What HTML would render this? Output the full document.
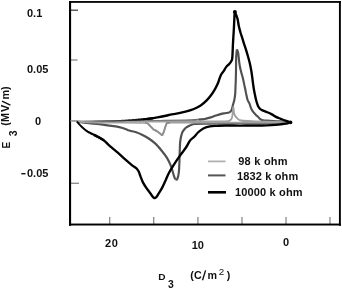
<!DOCTYPE html>
<html><head><meta charset="utf-8">
<style>
html,body{margin:0;padding:0;background:#fff;width:342px;height:289px;overflow:hidden;}
svg{display:block;will-change:transform;}
text{font-family:"Liberation Sans",sans-serif;font-weight:bold;fill:#111;}
</style></head>
<body>
<svg width="342" height="289" viewBox="0 0 342 289">
<defs><linearGradient id="fade" gradientUnits="userSpaceOnUse" x1="77" y1="0" x2="150" y2="0">
<stop offset="0.000" stop-color="#aaa"/><stop offset="0.205" stop-color="#888"/><stop offset="0.384" stop-color="#666"/><stop offset="0.658" stop-color="#333"/><stop offset="0.932" stop-color="#000"/></linearGradient></defs>
<!-- ticks -->
<g stroke="#8a8a8a" stroke-width="1.3" fill="none">
<line x1="71" y1="10.2" x2="78" y2="10.2" stroke="#444"/>
<line x1="71" y1="60" x2="77.5" y2="60"/>
<line x1="71" y1="183.3" x2="79" y2="183.3"/>
<line x1="109.7" y1="217" x2="109.7" y2="224"/>
<line x1="153.7" y1="217" x2="153.7" y2="224"/>
<line x1="197.9" y1="217" x2="197.9" y2="224"/>
<line x1="242" y1="217" x2="242" y2="224"/>
<line x1="286" y1="217" x2="286" y2="224"/>
<line x1="330" y1="217" x2="330" y2="224"/>
</g>
<!-- frame -->
<g fill="#000">
<rect x="69" y="1.05" width="271.85" height="1.8"/>
<rect x="69" y="1.05" width="2.1" height="224.75"/>
<rect x="338.95" y="1.05" width="1.9" height="224.75"/>
<rect x="69" y="223.55" width="271.85" height="1.95"/>
</g>

<!-- mid gray 1832k -->
<path fill="none" stroke="#6e6e6e" stroke-width="1.8" d="M78.00,121.90 C81.67,121.78 91.33,121.37 100.00,121.20 C108.67,121.03 120.00,120.97 130.00,120.90 C140.00,120.83 150.83,120.88 160.00,120.80 C169.17,120.72 179.17,120.53 185.00,120.40 C190.83,120.27 191.87,120.23 195.00,120.00 C198.13,119.77 202.33,119.17 203.80,119.00"/>
<path fill="none" stroke="#505050" stroke-width="2.15" stroke-linejoin="round" d="M199.00,119.60 C199.80,119.53 201.83,119.57 203.80,119.20 C205.77,118.83 208.77,118.02 210.80,117.40 C212.83,116.78 214.25,116.08 216.00,115.50 C217.75,114.92 219.80,114.28 221.30,113.90 C222.80,113.52 223.65,113.45 225.00,113.20 C226.35,112.95 228.30,112.93 229.40,112.40 C230.50,111.87 231.03,111.15 231.60,110.00 C232.17,108.85 232.35,107.17 232.80,105.50 C233.25,103.83 233.90,101.95 234.30,100.00 C234.70,98.05 235.00,95.98 235.20,93.80 C235.40,91.62 235.40,89.20 235.50,86.90 C235.60,84.60 235.72,82.75 235.80,80.00 C235.88,77.25 235.95,73.73 236.00,70.40 C236.05,67.07 236.05,62.57 236.10,60.00 C236.15,57.43 236.17,56.77 236.30,55.00 C236.43,53.23 236.80,50.33 236.90,49.40 M236.90,49.40 C237.12,50.00 237.85,51.17 238.20,53.00 C238.55,54.83 238.73,58.23 239.00,60.40 C239.27,62.57 239.48,64.23 239.80,66.00 C240.12,67.77 240.45,69.20 240.90,71.00 C241.35,72.80 242.07,75.13 242.50,76.80 C242.93,78.47 243.17,79.48 243.50,81.00 C243.83,82.52 244.18,84.40 244.50,85.90 C244.82,87.40 245.08,88.48 245.40,90.00 C245.72,91.52 246.03,93.33 246.40,95.00 C246.77,96.67 247.08,98.57 247.60,100.00 C248.12,101.43 248.95,102.28 249.50,103.60 C250.05,104.92 250.35,106.62 250.90,107.90 C251.45,109.18 252.03,110.22 252.80,111.30 C253.57,112.38 254.60,113.45 255.50,114.40 C256.40,115.35 257.40,116.20 258.20,117.00 C259.00,117.80 259.50,118.63 260.30,119.20 C261.10,119.77 261.38,120.13 263.00,120.40 C264.62,120.67 267.17,120.63 270.00,120.80 C272.83,120.97 276.80,121.12 280.00,121.40 C283.20,121.68 287.67,122.32 289.20,122.50 M289.20,122.50 C286.83,122.57 280.70,122.82 275.00,122.90 C269.30,122.98 260.83,122.98 255.00,123.00 C249.17,123.02 245.00,122.95 240.00,123.00 C235.00,123.05 230.00,123.18 225.00,123.30 C220.00,123.42 215.00,123.58 210.00,123.70 C205.00,123.82 198.25,123.75 195.00,124.00 C191.75,124.25 191.83,124.70 190.50,125.20 C189.17,125.70 187.98,126.37 187.00,127.00 C186.02,127.63 185.45,127.95 184.60,129.00 C183.75,130.05 182.63,131.20 181.90,133.30 C181.17,135.40 180.55,138.83 180.20,141.60 C179.85,144.37 179.93,146.43 179.80,149.90 C179.67,153.37 179.57,158.60 179.40,162.40 C179.23,166.20 179.15,169.93 178.80,172.70 C178.45,175.47 177.88,177.88 177.30,179.00 C176.72,180.12 175.63,179.33 175.30,179.40 M175.30,179.40 C175.02,178.63 174.33,177.05 173.60,174.80 C172.87,172.55 172.00,168.72 170.90,165.90 C169.80,163.08 168.53,160.43 167.00,157.90 C165.47,155.37 163.63,153.08 161.70,150.70 C159.77,148.32 157.57,145.63 155.40,143.60 C153.23,141.57 150.85,139.93 148.70,138.50 C146.55,137.07 144.58,136.03 142.50,135.00 C140.42,133.97 138.28,133.00 136.20,132.30 C134.12,131.60 131.45,131.20 130.00,130.80 C128.55,130.40 128.88,130.40 127.50,129.90 C126.12,129.40 123.45,128.35 121.70,127.80 C119.95,127.25 118.70,126.92 117.00,126.60 C115.30,126.28 113.33,126.15 111.50,125.90 C109.67,125.65 107.75,125.35 106.00,125.10 C104.25,124.85 103.53,124.67 101.00,124.40 C98.47,124.13 94.58,123.90 90.80,123.50 C87.02,123.10 80.38,122.25 78.30,122.00"/>
<!-- light gray 98k -->
<path fill="none" stroke="#a0a0a0" stroke-width="1.8" stroke-linejoin="round" d="M70.50,120.90 C71.58,120.92 73.75,120.85 77.00,121.00 C80.25,121.15 77.83,121.68 90.00,121.80 C102.17,121.92 131.67,121.75 150.00,121.70 C168.33,121.65 187.50,121.57 200.00,121.50 C212.50,121.43 220.17,121.42 225.00,121.30 C229.83,121.18 227.98,121.12 229.00,120.80 C230.02,120.48 230.57,120.10 231.10,119.40 C231.63,118.70 231.83,118.73 232.20,116.60 C232.57,114.47 233.12,108.27 233.30,106.60 M233.30,106.60 C233.48,107.90 233.75,112.45 234.40,114.40 C235.05,116.35 236.00,117.28 237.20,118.30 C238.40,119.32 238.63,120.00 241.60,120.50 C244.57,121.00 249.43,121.07 255.00,121.30 C260.57,121.53 269.30,121.70 275.00,121.90 C280.70,122.10 286.83,122.40 289.20,122.50 M289.20,122.50 C286.00,122.53 279.87,122.67 270.00,122.70 C260.13,122.73 241.67,122.70 230.00,122.70 C218.33,122.70 209.17,122.70 200.00,122.70 C190.83,122.70 180.33,122.68 175.00,122.70 C169.67,122.72 169.37,122.68 168.00,122.80 C166.63,122.92 167.13,123.02 166.80,123.40 C166.47,123.78 166.28,124.40 166.00,125.10 C165.72,125.80 165.45,126.52 165.10,127.60 C164.75,128.68 164.40,130.28 163.90,131.60 C163.40,132.92 162.40,134.85 162.10,135.50 M162.10,135.50 C161.82,135.22 161.20,134.48 160.40,133.80 C159.60,133.12 158.45,132.13 157.30,131.40 C156.15,130.67 154.42,130.02 153.50,129.40 C152.58,128.78 152.42,128.33 151.80,127.70 C151.18,127.07 150.43,126.27 149.80,125.60 C149.17,124.93 148.80,124.15 148.00,123.70 C147.20,123.25 146.33,123.05 145.00,122.90 C143.67,122.75 144.17,122.85 140.00,122.80 C135.83,122.75 126.67,122.65 120.00,122.60 C113.33,122.55 106.67,122.62 100.00,122.50 C93.33,122.38 83.33,122.00 80.00,121.90"/>
<path fill="none" stroke="#8e8e8e" stroke-width="1.7" stroke-linejoin="round" d="M170.00,122.75 C169.67,122.76 168.53,122.69 168.00,122.80 C167.47,122.91 167.13,123.02 166.80,123.40 C166.47,123.78 166.28,124.40 166.00,125.10 C165.72,125.80 165.45,126.52 165.10,127.60 C164.75,128.68 164.40,130.28 163.90,131.60 C163.40,132.92 162.40,134.85 162.10,135.50 M162.10,135.50 C161.82,135.22 161.20,134.48 160.40,133.80 C159.60,133.12 158.45,132.13 157.30,131.40 C156.15,130.67 154.42,130.02 153.50,129.40 C152.58,128.78 152.42,128.33 151.80,127.70 C151.18,127.07 150.43,126.27 149.80,125.60 C149.17,124.93 148.80,124.15 148.00,123.70 C147.20,123.25 145.50,123.03 145.00,122.90"/>
<!-- black fade -->
<path fill="url(#fade)" stroke="none" d="M77.52,122.55 L78.11,122.54 L78.85,122.52 L79.71,122.50 L80.67,122.48 L81.71,122.45 L82.83,122.42 L84.00,122.40 L85.20,122.37 L86.42,122.34 L87.65,122.31 L88.85,122.28 L90.02,122.25 L91.19,122.22 L92.40,122.19 L93.64,122.15 L94.91,122.12 L96.19,122.09 L97.49,122.05 L98.79,122.01 L100.08,121.98 L101.35,121.95 L102.61,121.91 L103.83,121.88 L105.02,121.85 L106.18,121.82 L107.33,121.80 L108.48,121.77 L109.61,121.75 L110.72,121.73 L111.83,121.71 L112.91,121.69 L113.98,121.67 L115.03,121.64 L116.05,121.62 L117.05,121.58 L118.03,121.55 L118.99,121.51 L119.93,121.46 L120.85,121.41 L121.75,121.36 L122.63,121.30 L123.49,121.25 L124.32,121.19 L125.13,121.14 L125.90,121.10 L126.65,121.06 L127.36,121.03 L128.05,121.00 L128.69,120.97 L129.30,120.95 L129.87,120.93 L130.41,120.91 L130.92,120.90 L131.41,120.88 L131.88,120.87 L132.34,120.85 L132.78,120.84 L133.21,120.82 L133.63,120.81 L134.05,120.79 L134.46,120.77 L134.83,120.75 L135.18,120.73 L135.51,120.72 L135.83,120.70 L136.14,120.68 L136.44,120.66 L136.74,120.64 L137.05,120.62 L137.37,120.60 L137.71,120.57 L138.07,120.55 L138.45,120.53 L138.83,120.50 L139.21,120.48 L139.60,120.46 L139.99,120.43 L140.39,120.41 L140.80,120.38 L141.23,120.35 L141.67,120.32 L142.12,120.29 L142.59,120.26 L143.09,120.23 L143.61,120.19 L144.18,120.16 L144.79,120.12 L145.42,120.07 L146.07,120.03 L146.72,119.99 L147.36,119.94 L147.98,119.90 L148.58,119.86 L149.14,119.81 L149.66,119.78 L150.11,119.74 L150.52,119.70 L150.90,119.66 L151.25,119.63 L151.56,119.59 L151.85,119.56 L152.11,119.52 L152.34,119.49 L152.55,119.46 L152.74,119.43 L152.90,119.40 L153.04,119.38 L153.16,119.36 L152.84,117.04 L152.70,117.06 L152.54,117.08 L152.37,117.11 L152.19,117.14 L151.99,117.17 L151.77,117.20 L151.52,117.24 L151.25,117.28 L150.96,117.32 L150.63,117.37 L150.28,117.42 L149.89,117.46 L149.44,117.51 L148.94,117.57 L148.39,117.63 L147.79,117.69 L147.17,117.75 L146.53,117.81 L145.89,117.88 L145.25,117.94 L144.62,118.00 L144.01,118.06 L143.44,118.12 L142.91,118.17 L142.43,118.22 L141.96,118.26 L141.50,118.31 L141.07,118.35 L140.64,118.39 L140.23,118.43 L139.83,118.47 L139.44,118.51 L139.06,118.54 L138.68,118.58 L138.30,118.61 L137.93,118.65 L137.56,118.68 L137.22,118.72 L136.90,118.75 L136.59,118.78 L136.29,118.81 L135.99,118.84 L135.69,118.86 L135.38,118.89 L135.05,118.92 L134.71,118.95 L134.34,118.98 L133.95,119.01 L133.53,119.04 L133.12,119.07 L132.69,119.10 L132.26,119.12 L131.80,119.15 L131.34,119.18 L130.85,119.21 L130.33,119.24 L129.79,119.28 L129.21,119.32 L128.60,119.36 L127.95,119.40 L127.27,119.46 L126.55,119.51 L125.80,119.57 L125.02,119.64 L124.22,119.70 L123.39,119.75 L122.53,119.81 L121.66,119.86 L120.76,119.92 L119.85,119.96 L118.92,120.01 L117.97,120.05 L117.00,120.09 L116.01,120.12 L114.99,120.14 L113.95,120.17 L112.88,120.19 L111.80,120.21 L110.70,120.23 L109.58,120.25 L108.45,120.28 L107.30,120.30 L106.15,120.32 L104.98,120.35 L103.79,120.38 L102.57,120.41 L101.31,120.45 L100.04,120.48 L98.74,120.51 L97.45,120.55 L96.15,120.59 L94.87,120.62 L93.60,120.65 L92.36,120.69 L91.15,120.72 L89.98,120.75 L88.81,120.78 L87.61,120.81 L86.39,120.84 L85.17,120.87 L83.96,120.90 L82.79,120.93 L81.68,120.95 L80.63,120.98 L79.67,121.00 L78.81,121.02 L78.08,121.04 L77.48,121.05 Z"/>
<path fill="#000" stroke="none" d="M104.81,139.60 L104.52,139.42 L104.16,139.20 L103.74,138.94 L103.26,138.65 L102.74,138.33 L102.19,137.99 L101.62,137.64 L101.03,137.29 L100.45,136.94 L99.87,136.60 L99.30,136.27 L98.77,135.97 L98.25,135.69 L97.72,135.42 L97.18,135.15 L96.65,134.88 L96.11,134.62 L95.58,134.36 L95.06,134.11 L94.54,133.86 L94.03,133.62 L93.54,133.38 L93.06,133.15 L92.60,132.92 L92.14,132.69 L91.70,132.48 L91.26,132.27 L90.84,132.07 L90.43,131.87 L90.03,131.68 L89.64,131.49 L89.26,131.30 L88.90,131.11 L88.54,130.92 L88.20,130.72 L87.86,130.52 L87.53,130.31 L87.21,130.09 L86.89,129.87 L86.58,129.65 L86.28,129.42 L85.98,129.18 L85.69,128.95 L85.40,128.71 L85.11,128.47 L84.82,128.23 L84.53,127.98 L84.25,127.75 L83.97,127.51 L83.69,127.27 L83.42,127.03 L83.15,126.79 L82.88,126.55 L82.62,126.30 L82.36,126.06 L82.11,125.83 L81.86,125.59 L81.63,125.36 L81.40,125.14 L81.18,124.93 L80.97,124.72 L80.77,124.52 L80.58,124.32 L80.40,124.13 L80.23,123.93 L80.06,123.75 L79.89,123.56 L79.73,123.38 L79.57,123.20 L79.42,123.02 L79.27,122.85 L79.12,122.68 L78.97,122.51 L78.82,122.33 L78.67,122.16 L78.53,121.99 L78.39,121.82 L78.25,121.65 L78.12,121.50 L78.00,121.35 L77.89,121.21 L77.79,121.09 L77.70,120.98 L77.63,120.89 L76.17,122.11 L76.24,122.19 L76.32,122.29 L76.42,122.41 L76.53,122.55 L76.65,122.70 L76.78,122.86 L76.92,123.03 L77.07,123.20 L77.22,123.38 L77.37,123.57 L77.53,123.75 L77.68,123.92 L77.84,124.10 L77.99,124.27 L78.14,124.45 L78.31,124.63 L78.47,124.82 L78.64,125.02 L78.82,125.21 L79.01,125.41 L79.20,125.62 L79.40,125.83 L79.61,126.05 L79.82,126.27 L80.05,126.50 L80.28,126.73 L80.52,126.97 L80.76,127.22 L81.02,127.47 L81.28,127.72 L81.55,127.98 L81.82,128.23 L82.10,128.49 L82.38,128.75 L82.67,129.00 L82.95,129.25 L83.23,129.50 L83.52,129.75 L83.80,130.00 L84.10,130.25 L84.40,130.51 L84.70,130.77 L85.02,131.02 L85.34,131.28 L85.68,131.53 L86.02,131.78 L86.37,132.03 L86.74,132.28 L87.12,132.52 L87.50,132.75 L87.89,132.97 L88.28,133.18 L88.67,133.39 L89.07,133.59 L89.48,133.80 L89.89,134.01 L90.31,134.22 L90.73,134.43 L91.16,134.65 L91.60,134.88 L92.06,135.12 L92.55,135.37 L93.04,135.62 L93.54,135.88 L94.05,136.14 L94.57,136.40 L95.09,136.67 L95.61,136.93 L96.12,137.21 L96.63,137.48 L97.14,137.75 L97.63,138.03 L98.14,138.31 L98.68,138.63 L99.25,138.96 L99.83,139.30 L100.40,139.65 L100.97,140.00 L101.52,140.33 L102.03,140.65 L102.51,140.94 L102.93,141.20 L103.30,141.43 L103.59,141.60 Z"/>
<!-- black 10000k -->
<path fill="none" stroke="#000" stroke-width="2.35" stroke-linejoin="round" stroke-linecap="round" d="M148.00,118.80 C148.33,118.77 148.45,118.83 150.00,118.60 C151.55,118.37 154.87,117.83 157.30,117.40 C159.73,116.97 162.17,116.50 164.60,116.00 C167.03,115.50 169.47,114.88 171.90,114.40 C174.33,113.92 176.77,113.60 179.20,113.10 C181.63,112.60 184.05,112.08 186.50,111.40 C188.95,110.72 191.53,109.98 193.90,109.00 C196.27,108.02 198.62,106.88 200.70,105.50 C202.78,104.12 204.65,102.45 206.40,100.70 C208.15,98.95 209.77,96.93 211.20,95.00 C212.63,93.07 213.88,91.05 215.00,89.10 C216.12,87.15 217.13,85.10 217.90,83.30 C218.67,81.50 219.08,79.72 219.60,78.30 C220.12,76.88 220.33,75.98 221.00,74.80 C221.67,73.62 222.75,72.48 223.60,71.20 C224.45,69.92 225.27,68.20 226.10,67.10 C226.93,66.00 227.83,65.43 228.60,64.60 C229.37,63.77 230.13,62.93 230.70,62.10 C231.27,61.27 231.72,60.57 232.00,59.60 C232.28,58.63 232.28,57.90 232.40,56.30 C232.52,54.70 232.60,52.22 232.70,50.00 C232.80,47.78 232.87,45.50 233.00,43.00 C233.13,40.50 233.35,37.50 233.50,35.00 C233.65,32.50 233.77,30.50 233.90,28.00 C234.03,25.50 234.20,22.10 234.30,20.00 C234.40,17.90 234.40,16.73 234.50,15.40 C234.60,14.07 234.83,12.57 234.90,12.00 M234.90,12.00 C235.15,12.57 235.92,14.07 236.40,15.40 C236.88,16.73 237.40,18.22 237.80,20.00 C238.20,21.78 238.37,24.07 238.80,26.10 C239.23,28.13 239.82,30.18 240.40,32.20 C240.98,34.22 241.67,36.18 242.30,38.20 C242.93,40.22 243.55,42.27 244.20,44.30 C244.85,46.33 245.57,48.37 246.20,50.40 C246.83,52.43 247.45,54.57 248.00,56.50 C248.55,58.43 249.10,60.42 249.50,62.00 C249.90,63.58 250.07,64.33 250.40,66.00 C250.73,67.67 251.17,69.92 251.50,72.00 C251.83,74.08 252.13,76.50 252.40,78.50 C252.67,80.50 252.83,82.08 253.10,84.00 C253.37,85.92 253.68,88.17 254.00,90.00 C254.32,91.83 254.67,93.38 255.00,95.00 C255.33,96.62 255.65,98.30 256.00,99.70 C256.35,101.10 256.72,102.27 257.10,103.40 C257.48,104.53 257.80,105.58 258.30,106.50 C258.80,107.42 259.40,108.25 260.10,108.90 C260.80,109.55 261.45,109.90 262.50,110.40 C263.55,110.90 264.92,111.28 266.40,111.90 C267.88,112.52 269.80,113.27 271.40,114.10 C273.00,114.93 274.45,116.12 276.00,116.90 C277.55,117.68 279.13,118.18 280.70,118.80 C282.27,119.42 283.77,120.02 285.40,120.60 C287.03,121.18 289.65,122.02 290.50,122.30 M290.50,122.30 C289.75,122.52 287.63,123.27 286.00,123.60 C284.37,123.93 283.13,124.05 280.70,124.30 C278.27,124.55 274.52,124.90 271.40,125.10 C268.28,125.30 265.57,125.43 262.00,125.50 C258.43,125.57 253.67,125.48 250.00,125.50 C246.33,125.52 244.17,125.60 240.00,125.60 C235.83,125.60 228.83,125.47 225.00,125.50 C221.17,125.53 219.52,125.67 217.00,125.80 C214.48,125.93 212.10,125.90 209.90,126.30 C207.70,126.70 205.70,127.25 203.80,128.20 C201.90,129.15 200.13,130.53 198.50,132.00 C196.87,133.47 195.42,135.57 194.00,137.00 C192.58,138.43 191.33,138.85 190.00,140.60 C188.67,142.35 187.70,144.95 186.00,147.50 C184.30,150.05 181.87,152.97 179.80,155.90 C177.73,158.83 175.42,162.25 173.60,165.10 C171.78,167.95 170.18,170.57 168.90,173.00 C167.62,175.43 167.02,177.27 165.90,179.70 C164.78,182.13 163.42,185.28 162.20,187.60 C160.98,189.92 159.60,191.98 158.60,193.60 C157.60,195.22 156.90,196.55 156.20,197.30 C155.50,198.05 154.70,197.97 154.40,198.10 M154.40,198.10 C154.20,197.97 153.92,198.15 153.20,197.30 C152.48,196.45 151.22,194.52 150.10,193.00 C148.98,191.48 147.72,190.02 146.50,188.20 C145.28,186.38 143.82,184.12 142.80,182.10 C141.78,180.08 141.08,177.85 140.40,176.10 C139.72,174.35 139.30,172.82 138.70,171.60 C138.10,170.38 137.55,169.60 136.80,168.80 C136.05,168.00 135.27,167.63 134.20,166.80 C133.13,165.97 131.95,165.08 130.40,163.80 C128.85,162.52 126.73,160.70 124.90,159.10 C123.07,157.50 121.25,155.82 119.40,154.20 C117.55,152.58 115.65,151.00 113.80,149.40 C111.95,147.80 109.90,146.07 108.30,144.60 C106.70,143.13 105.88,141.87 104.20,140.60 C102.52,139.33 99.73,137.87 98.20,137.00 C96.67,136.13 95.53,135.67 95.00,135.40"/>
<circle cx="234.9" cy="12.1" r="2" fill="#000"/>
<circle cx="290.6" cy="122.4" r="1.8" fill="#000"/>

<!-- legend -->
<line x1="208" y1="161.4" x2="225.5" y2="161.4" stroke="#b0b0b0" stroke-width="1.8"/>
<line x1="208" y1="175.4" x2="225.5" y2="175.4" stroke="#555" stroke-width="2"/>
<line x1="208" y1="192.3" x2="226" y2="192.3" stroke="#000" stroke-width="2.6"/>
<text x="238.2" y="165.2" font-size="11" letter-spacing="0.25">98 k ohm</text>
<text x="237" y="179.8" font-size="11" letter-spacing="0.15">1832 k ohm</text>
<text x="235" y="195.8" font-size="11" letter-spacing="0.15">10000 k ohm</text>

<!-- y tick labels -->
<text x="27" y="17.1" font-size="11">0.1</text>
<text x="27" y="73" font-size="11">0.05</text>
<text x="35" y="124.6" font-size="11">0</text>
<text x="27" y="177.4" font-size="11">0.05</text>
<rect x="21.3" y="173" width="4.2" height="1.4" fill="#111"/>

<!-- x tick labels -->
<text x="105" y="247.1" font-size="11" letter-spacing="0.6">20</text>
<text x="191.7" y="248.9" font-size="11">10</text>
<text x="283" y="245.6" font-size="11">0</text>

<!-- x axis label -->
<text transform="translate(158.3,279.7) scale(1.18,1)" font-size="8.6">D</text>
<text x="168.0" y="287.7" font-size="10.4">3</text>
<text x="190.3 193.9 207.4" y="279.1" font-size="10.7">(Cm</text>
<line x1="202.5" y1="280.2" x2="205.6" y2="270.4" stroke="#111" stroke-width="1.35"/>
<text x="218.7" y="274.8" font-size="9.8" font-weight="normal" style="font-weight:normal">2</text>
<text x="226.8" y="279.1" font-size="10.7">)</text>

<!-- y axis label -->
<text transform="translate(9.8,148.5) rotate(-90)" font-size="10.1">E</text>
<text transform="translate(16.6,136.3) rotate(-90)" font-size="10.5">3</text>
<text transform="translate(9.1,126) rotate(-90)" font-size="10.9" x="0.2 4.0 13.9 26.4 36.1">(MVm)</text>
<line x1="10.4" y1="105.1" x2="2.0" y2="101.1" stroke="#111" stroke-width="1.4"/>
</svg>
</body></html>
